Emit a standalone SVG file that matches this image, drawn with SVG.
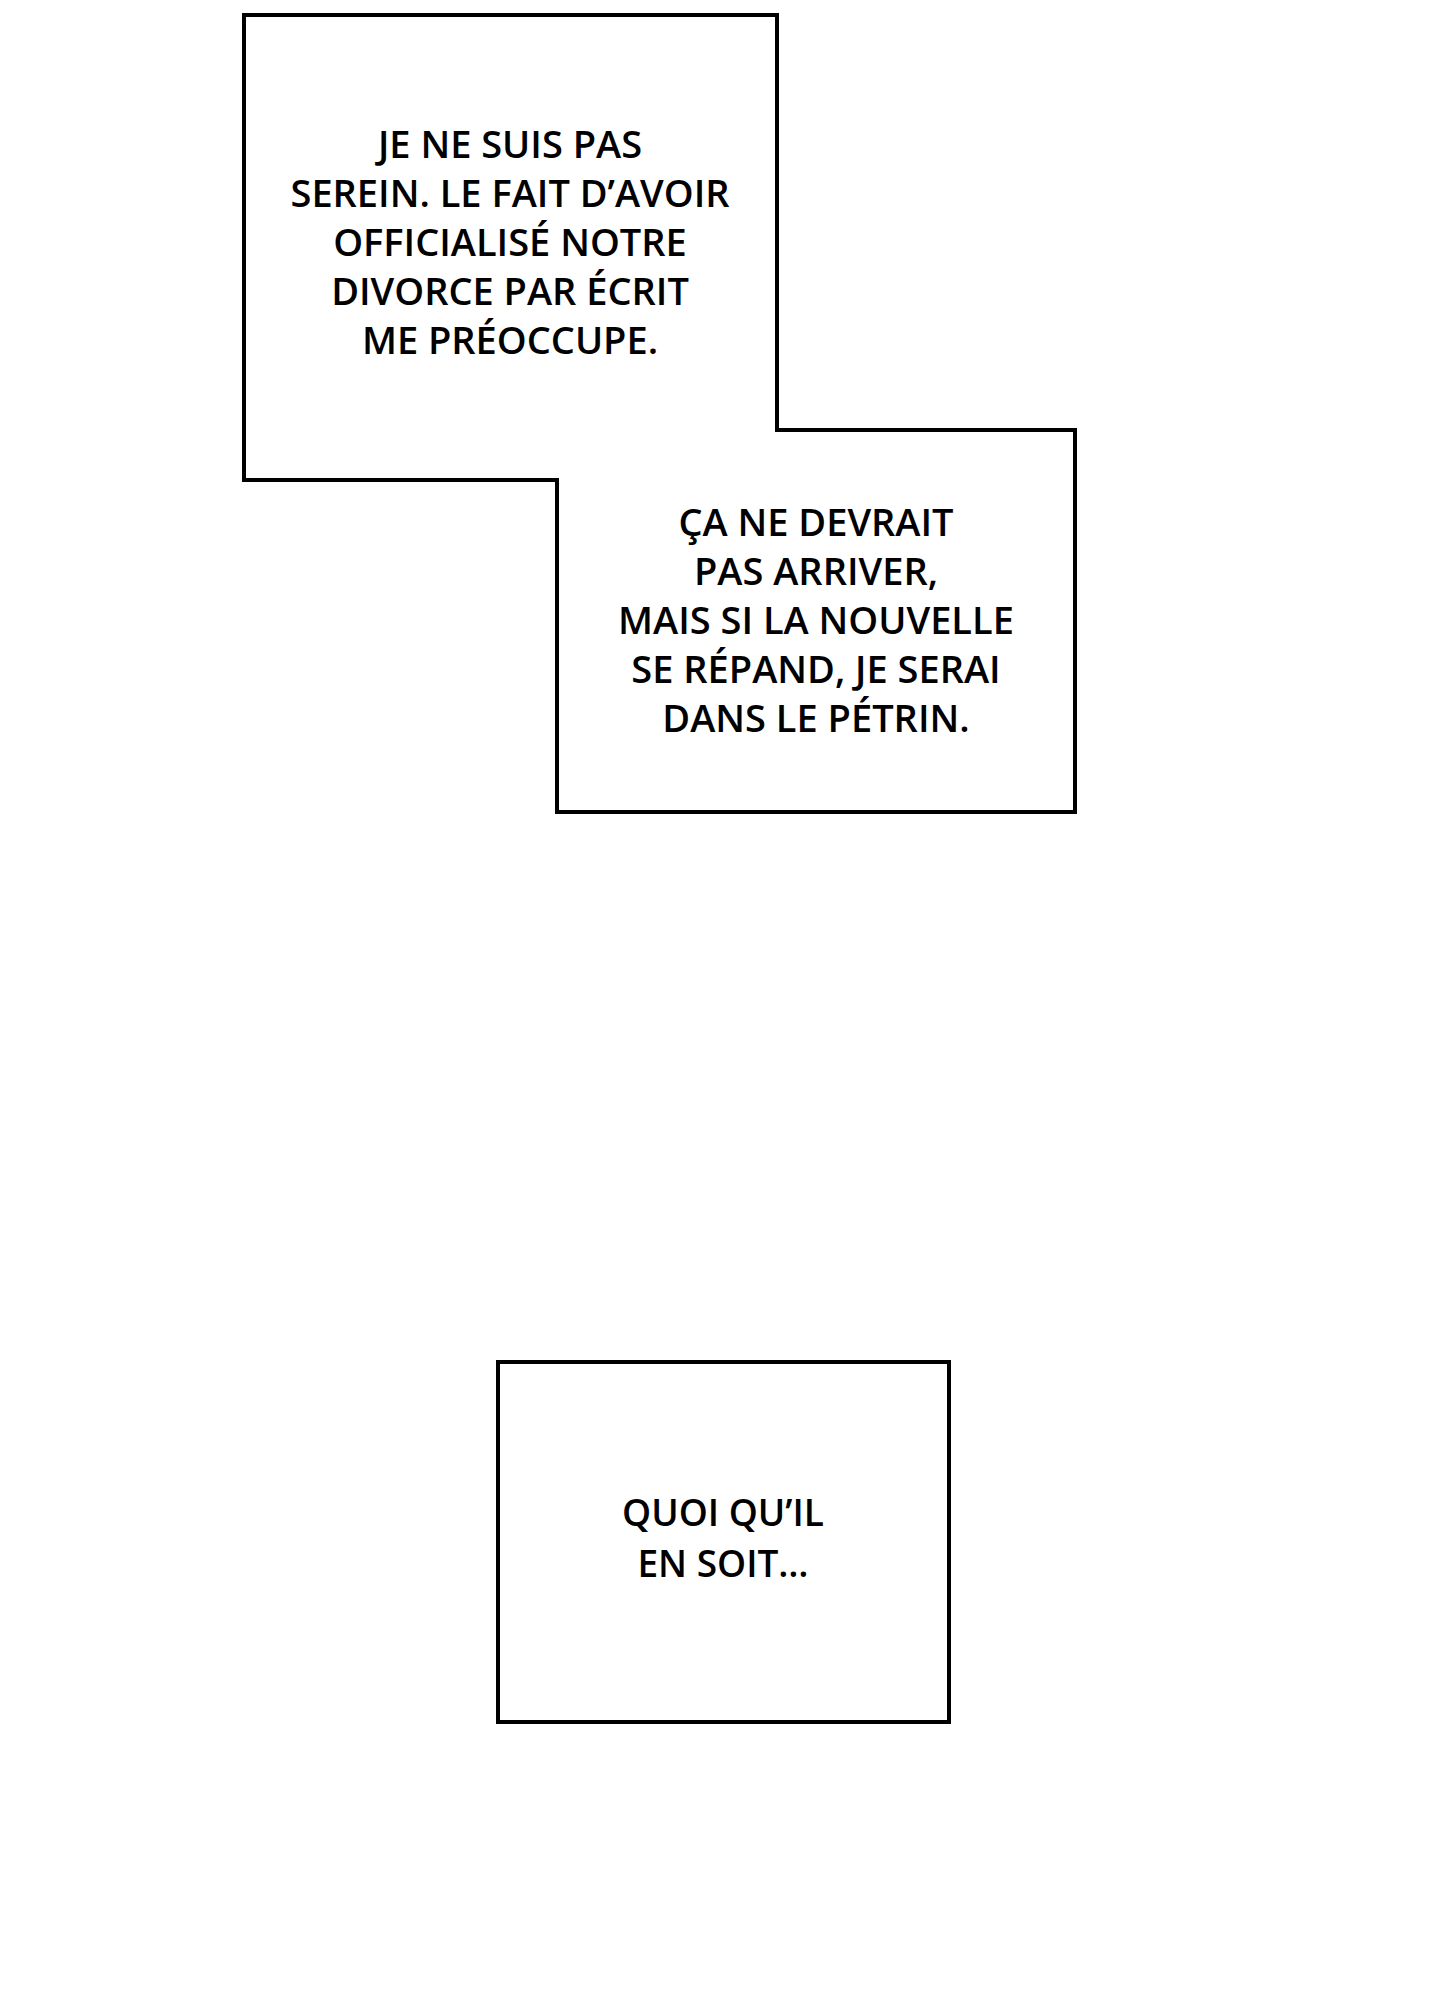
<svg xmlns="http://www.w3.org/2000/svg" width="1440" height="2000" viewBox="0 0 1440 2000">
  <style>
    .frame { fill: none; stroke: #000; stroke-width: 4; stroke-linejoin: miter; stroke-linecap: square; }
    .txt { font-family: "Open Sans", "Noto Sans", sans-serif; font-size: 38px; font-weight: 600; fill: #000; text-anchor: middle; }
    .txt3 { font-size: 37px; }
  </style>
  <rect x="0" y="0" width="1440" height="2000" fill="#fff"/>
  <g id="bubble1">
    <path class="frame" d="M557,480 L244,480 L244,15 L777,15 L777,430"/>
    <text class="txt" x="510" y="158">JE NE SUIS PAS</text>
    <text class="txt" x="510" y="207">SEREIN. LE FAIT D’AVOIR</text>
    <text class="txt" x="510" y="256">OFFICIALISÉ NOTRE</text>
    <text class="txt" x="510" y="305">DIVORCE PAR ÉCRIT</text>
    <text class="txt" x="510" y="354">ME PRÉOCCUPE.</text>
  </g>
  <g id="bubble2">
    <path class="frame" d="M777,430 L1075,430 L1075,812 L557,812 L557,480"/>
    <text class="txt" x="816" y="536">ÇA NE DEVRAIT</text>
    <text class="txt" x="816" y="585">PAS ARRIVER,</text>
    <text class="txt" x="816" y="634">MAIS SI LA NOUVELLE</text>
    <text class="txt" x="816" y="683">SE RÉPAND, JE SERAI</text>
    <text class="txt" x="816" y="732">DANS LE PÉTRIN.</text>
  </g>
  <g id="bubble3">
    <rect class="frame" x="498" y="1362" width="451" height="360"/>
    <text class="txt txt3" x="723" y="1526">QUOI QU’IL</text>
    <text class="txt txt3" x="723" y="1577">EN SOIT…</text>
  </g>
  <g id="connectors"/>
</svg>
